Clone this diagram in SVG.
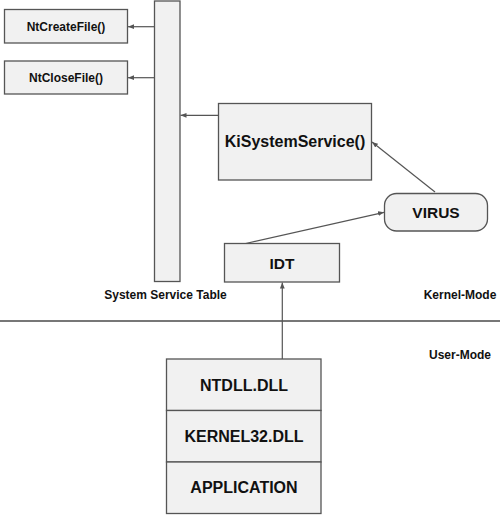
<svg xmlns="http://www.w3.org/2000/svg" width="500" height="515" viewBox="0 0 500 515">
<defs>
<marker id="ah" viewBox="0 0 10 10" refX="10" refY="5" markerWidth="6" markerHeight="6" markerUnits="userSpaceOnUse" orient="auto">
<path d="M0,1 L10,5 L0,9 z" fill="#555"/>
</marker>
<style>
.box{fill:#f1f1f1;stroke:#555;stroke-width:1.3}
.t{font-family:"Liberation Sans",Arial,sans-serif;font-weight:bold;fill:#111;text-anchor:middle;dominant-baseline:central}
.c{stroke:#555;stroke-width:1.2;fill:none;marker-end:url(#ah)}
</style>
</defs>
<rect width="500" height="515" fill="#fff"/>
<g id="ntcreatefile"><rect class="box" x="4.5" y="9.5" width="123" height="33.5"/><text class="t" x="66" y="26.5" font-size="12">NtCreateFile()</text></g>
<g id="ntclosefile"><rect class="box" x="4.5" y="61" width="123" height="33"/><text class="t" x="66" y="77.7" font-size="12">NtCloseFile()</text></g>
<g id="sst"><rect class="box" x="154.5" y="1" width="25.5" height="280.5"/><text class="t" x="165.5" y="295" font-size="12">System Service Table</text></g>
<g id="kisystemservice"><rect class="box" x="218.5" y="103.5" width="153" height="76.5"/><text class="t" x="295" y="141.7" font-size="16">KiSystemService()</text></g>
<g id="virus"><rect class="box" x="384.5" y="193.5" width="103" height="37.5" rx="12" ry="12"/><text class="t" x="436" y="212" font-size="15.5">VIRUS</text></g>
<g id="idt"><rect class="box" x="224.5" y="243.5" width="115" height="38.5"/><text class="t" x="282" y="263" font-size="15.5">IDT</text></g>
<g id="modes"><text class="t" x="460" y="295" font-size="12">Kernel-Mode</text><text class="t" x="460" y="355" font-size="12">User-Mode</text><line x1="0" y1="321" x2="500" y2="321" stroke="#777" stroke-width="2"/></g>
<g id="stack">
<rect class="box" x="166.5" y="359" width="154.5" height="51.5"/><text class="t" x="244" y="385" font-size="16">NTDLL.DLL</text>
<rect class="box" x="166.5" y="410.5" width="154.5" height="51.5"/><text class="t" x="244" y="436.5" font-size="16">KERNEL32.DLL</text>
<rect class="box" x="166.5" y="462" width="154.5" height="51.5"/><text class="t" x="244" y="487.5" font-size="16">APPLICATION</text>
</g>
<g id="connectors">
<line class="c" x1="154.5" y1="26.7" x2="128" y2="26.7"/>
<line class="c" x1="154.5" y1="77.7" x2="128" y2="77.7"/>
<line class="c" x1="218.5" y1="115.3" x2="180.5" y2="115.3"/>
<line class="c" x1="435" y1="192" x2="372" y2="142"/>
<line class="c" x1="245.7" y1="243.5" x2="384" y2="212.3"/>
<line class="c" x1="282.3" y1="359" x2="282.3" y2="282.5"/>
</g>
</svg>
